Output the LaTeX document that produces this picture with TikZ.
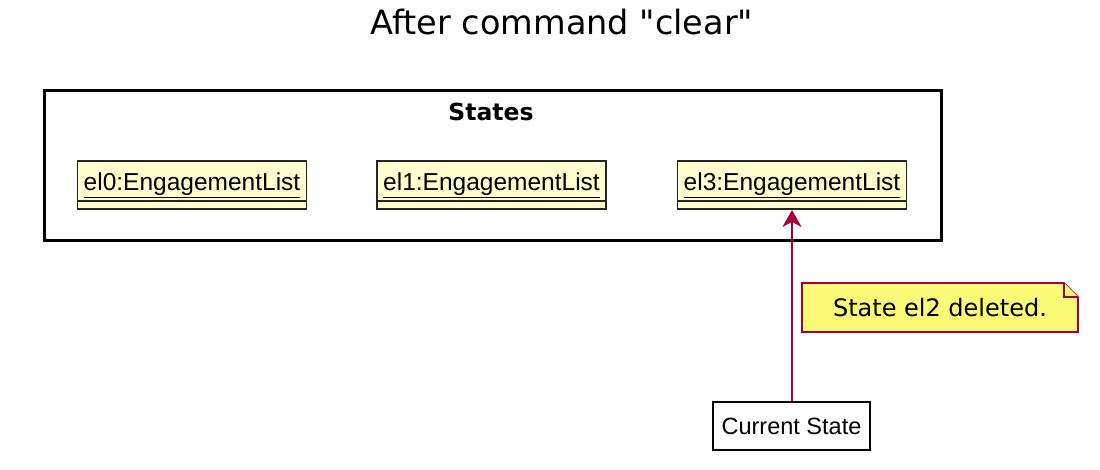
\documentclass[tikz,border=0pt]{standalone}
\usepackage{fontspec}
\setmainfont{DejaVu Sans}
\newfontfamily\titlefont{DejaVu Sans}
\newfontfamily\arialfont{Liberation Sans}
\usetikzlibrary{arrows.meta}
\definecolor{objfill}{HTML}{FEFECE}
\definecolor{notefill}{HTML}{FBFB77}
\definecolor{plumred}{HTML}{A80036}
\tikzset{
  frame/.style={draw=black, line width=3pt},
  obj/.style={draw=black!85, fill=objfill, line width=1.8pt, minimum width=229pt,
    minimum height=48pt, inner sep=0pt, font=\arialfont\fontsize{24.5}{28}\selectfont},
  plain/.style={draw=black, fill=white, line width=1.6pt, minimum width=157pt,
    minimum height=48pt, inner sep=0pt, font=\arialfont\fontsize{23.5}{27}\selectfont},
  notebox/.style={draw=plumred, fill=notefill, line width=1.6pt},
  link/.style={draw=plumred, line width=1.8pt, -{Stealth[length=17pt,width=19pt,inset=5pt]}},
  lab/.style={inner sep=0pt},
}
\begin{document}
\begin{tikzpicture}[x=1pt,y=-1pt]
  \useasboundingbox (0,0) rectangle (1100,469);

  \node[lab, font=\titlefont\fontsize{33.5}{38}\selectfont] (title) at (562,22) {After command "clear"};

  % package frame
  \draw[frame] (44,90) rectangle (941,240);
  \node[lab, font=\bfseries\fontsize{23.5}{28}\selectfont] (states) at (491,112) {States};

  % object states
  \node[obj] (el0) at (192,185) {\raisebox{-2pt}{\underline{el0:EngagementList}}};
  \node[obj] (el1) at (491.5,185) {\raisebox{-2pt}{\underline{el1:EngagementList}}};
  \node[obj] (el3) at (792,185) {\raisebox{-2pt}{\underline{el3:EngagementList}}};
  \foreach \o in {el0,el1,el3}
    \draw[draw=black!85, line width=1.4pt] ([yshift=9pt]\o.south west) -- ([yshift=9pt]\o.south east);

  % note
  \draw[notebox] (802,283) -- (1064,283) -- (1078,297) -- (1078,332) -- (802,332) -- cycle;
  \draw[notebox] (1064,283) -- (1064,297) -- (1078,297);
  \node[lab, font=\fontsize{24}{28}\selectfont] (note) at (940,308) {State el2 deleted.};

  % pointer
  \node[plain] (cur) at (791.5,426) {Current State};
  \draw[link] (cur.north -| el3.south) -- (el3.south);
\end{tikzpicture}
\end{document}
